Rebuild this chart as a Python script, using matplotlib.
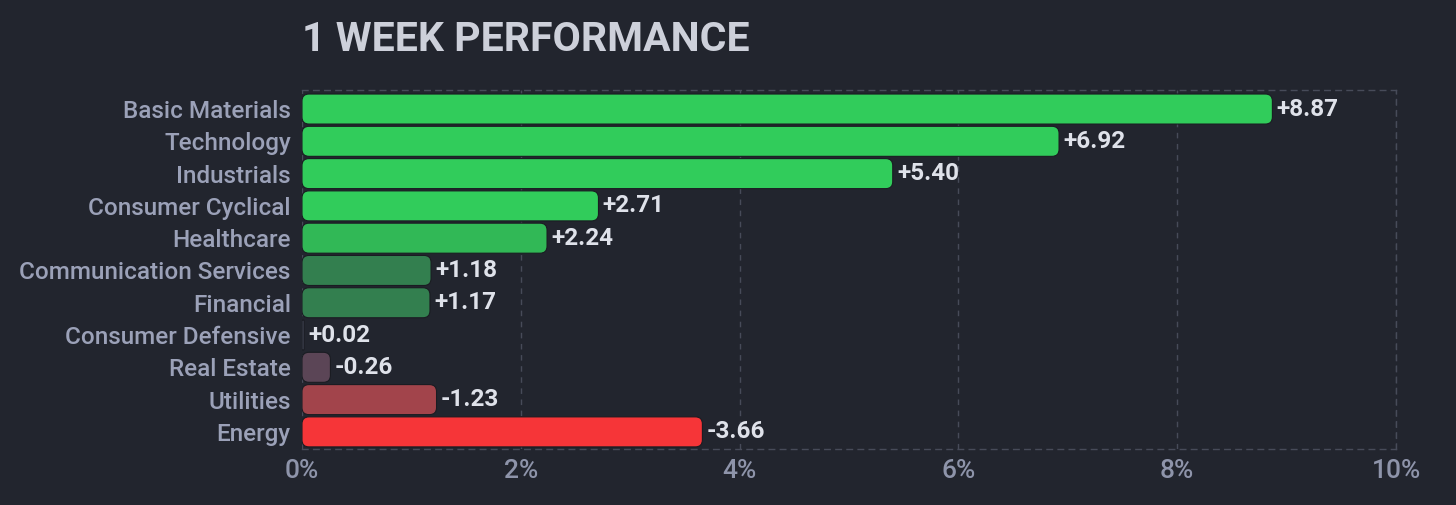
import matplotlib.pyplot as plt
from matplotlib.patches import FancyBboxPatch
from matplotlib.ticker import FuncFormatter

# data
sectors = ["Basic Materials", "Technology", "Industrials", "Consumer Cyclical",
           "Healthcare", "Communication Services", "Financial", "Consumer Defensive",
           "Real Estate", "Utilities", "Energy"]
changes = [8.87, 6.92, 5.40, 2.71, 2.24, 1.18, 1.17, 0.02, -0.26, -1.23, -3.66]
bar_colors = ["#31cc5b", "#31cc5b", "#31cc5b", "#31cc5b", "#31b856", "#337f4f",
              "#337f4f", "#414554", "#5b4556", "#a2444b", "#f63538"]
xticks = [0, 2, 4, 6, 8, 10]

BG = "#22252e"
GRID = "#474b59"

plt.rcParams["font.family"] = ["Roboto", "DejaVu Sans"]

fig = plt.figure(figsize=(14.56, 5.05), dpi=100, facecolor=BG)
ax = fig.add_axes([0.2074, 0.1109, 0.7514, 0.7109], facecolor=BG)

ypos = list(range(len(sectors)))
widths = [abs(v) for v in changes]
bars = ax.barh(ypos, widths, height=0.93, color="none", edgecolor="none")

ax.set_xlim(0, 10)
ax.set_ylim(len(sectors) - 0.47, -0.59)

# rounded bars in place of the plain rectangles
fig.canvas.draw()
px_x = ax.transData.transform((1, 0))[0] - ax.transData.transform((0, 0))[0]
px_y = abs(ax.transData.transform((0, 1))[1] - ax.transData.transform((0, 0))[1])
aspect = px_x / px_y
for bar, col in zip(bars, bar_colors):
    w = bar.get_width()
    r = min(7 / px_x, w / 2)
    patch = FancyBboxPatch((bar.get_x(), bar.get_y()), w, bar.get_height(),
                           boxstyle=f"round,pad=0,rounding_size={r}",
                           mutation_aspect=aspect, facecolor=col,
                           edgecolor="#1a1c22", linewidth=0.8, zorder=3)
    ax.add_patch(patch)

for bar, v in zip(bars, changes):
    ax.text(bar.get_width() + 0.04, bar.get_y() + bar.get_height() / 2,
            f"{v:+.2f}", va="center", ha="left", fontsize=17.5,
            fontweight="bold", color="#dfe2ea", zorder=4)

ax.set_yticks(ypos)
ax.set_yticklabels(sectors, fontsize=17.5, color="#9ba1b8", fontweight="medium")
ax.set_xticks(xticks)
ax.xaxis.set_major_formatter(FuncFormatter(lambda x, p: f"{x:.0f}%"))
ax.tick_params(axis="x", labelsize=19, labelcolor="#8e94aa", length=0, pad=7)
ax.tick_params(axis="y", length=0, pad=8)
for lab in ax.get_xticklabels():
    lab.set_fontweight("medium")

ax.grid(axis="x", color=GRID, linestyle=(0, (4, 4)), linewidth=1, zorder=0)
for side in ["top", "right", "bottom"]:
    ax.spines[side].set_color(GRID)
    ax.spines[side].set_linestyle((0, (4, 4)))
    ax.spines[side].set_linewidth(1)
ax.spines["left"].set_visible(False)

fig.text(0.2074, 0.92, "1 WEEK PERFORMANCE", fontsize=29.5, fontweight="bold",
         color="#cdd0da", ha="left", va="center")

fig.savefig("out.png", dpi=100, facecolor=BG)
